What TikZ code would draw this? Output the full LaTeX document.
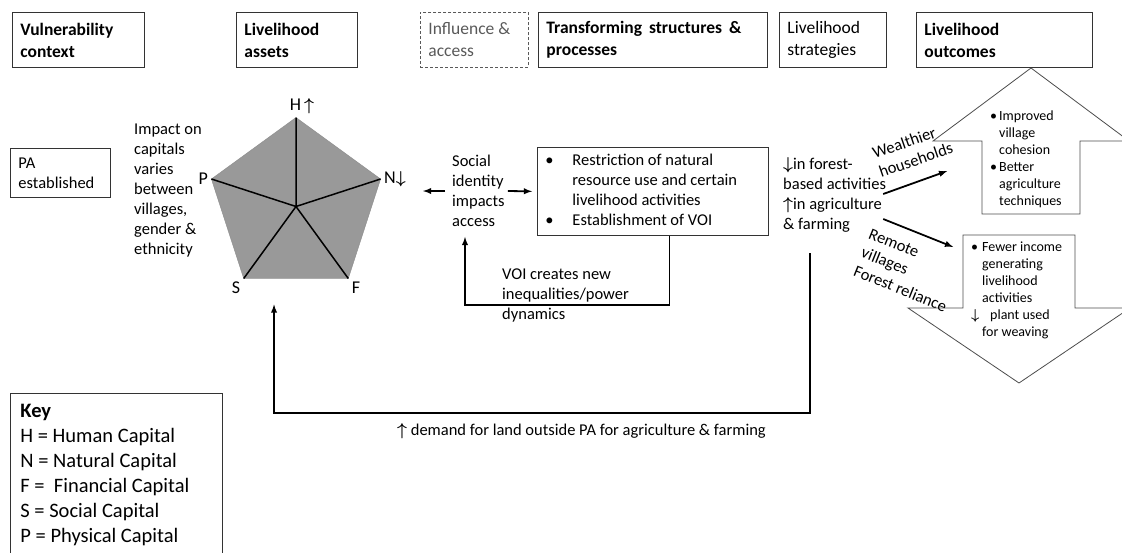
\documentclass[tikz,border=0pt]{standalone}
\usepackage{fontspec}
\usepackage{amsmath}
\setmainfont{Carlito}
\usetikzlibrary{calc}

\begin{document}
\begin{tikzpicture}[x=1pt,y=-1pt,
	box/.style={draw=black!80,line width=0.9pt,anchor=north west,minimum height=55pt,inner xsep=8pt,text width=#1,align=flush left},
	txt/.style={inner sep=0pt,anchor=west,align=flush left,font=\bdf},
	conn/.style={-latex,line width=1.8pt},
	big/.style={draw=black!70,line width=0.8pt},
	every label/.style={font=\fontsize{18}{22}\selectfont}]
	\newcommand{\hdf}{\fontsize{17.5}{22}\selectfont}
	\newcommand{\bdf}{\fontsize{16.5}{20}\selectfont}
	\newcommand{\upa}{$\boldsymbol{\uparrow}$}
	\newcommand{\dna}{$\boldsymbol{\downarrow}$}
	\useasboundingbox (0,0) rectangle (1122,552);
	% header row
	\node[box=116pt,font=\hdf\bfseries] (vul) at (12,12) {Vulnerability\\context};
	\node[box=105pt,font=\hdf\bfseries] (ast) at (236,12) {Livelihood\\assets};
	\node[box=92pt,font=\hdf,draw=black!65,dash pattern=on 3pt off 2pt,text=black!65] (inf) at (420,12) {Influence \&\\access};
	\node[box=213pt,font=\hdf\bfseries] (trs) at (538,12) {Transforming\hspace{7pt}structures\hspace{7pt}\&\\processes};
	\node[box=91pt,font=\hdf] (str) at (779,12) {Livelihood\\strategies};
	\node[box=160pt,font=\hdf\bfseries] (out) at (916,12) {Livelihood\\outcomes};
	% vulnerability
	\node[box=84pt,minimum height=49pt,font=\bdf] (pa) at (10,148) {PA\\established};
	\node[txt] (imp) at (134,191) {Impact on\\capitals\\varies\\between\\villages,\\gender \&\\ethnicity};
	% pentagon
	\coordinate (c) at (296,206.5);
	\coordinate[label={[xshift=6pt]above:H\,\upa}] (h) at (296,117.5);
	\coordinate[label=right:N\dna] (n) at (380.6,179);
	\coordinate[label=below right:F] (f) at (348.3,278.5);
	\coordinate[label=below left:S] (s) at (243.7,278.5);
	\coordinate[label=left:P] (p) at (211.4,179);
	\filldraw[fill=black!40,draw=black!45] (h) -- (n) -- (f) -- (s) -- (p) -- cycle;
	\draw[line width=1.5pt] (c) -- (h) (c) -- (n) (c) -- (f) (c) -- (s) (c) -- (p);
	% access and structures
	\node[txt] (soc) at (452,191) {Social\\identity\\impacts\\access};
	\node[box=215pt,minimum height=88pt,font=\bdf] (restr) at (537,147) {\begin{tabular}{@{}p{27pt}@{}l@{}}
		\textbullet & Restriction of natural\\
		& resource use and certain\\
		& livelihood activities\\
		\textbullet & Establishment of VOI
	\end{tabular}};
	\node[txt] (voi) at (502,295) {VOI creates new\\inequalities/power\\dynamics};
	\draw[conn] ([xshift=-7pt]soc.west) -- ([xshift=-29pt]soc.west); %to N
	\draw[conn,shorten >=5pt] ([xshift=3pt]soc.east) -- (restr.west);
	\draw[conn] ([xshift=16.5pt]restr.south) -- ++(0,69) -| ([xshift=13pt,yshift=-10pt]soc.south west); %VOI loop
	% strategies
	\node[txt] (strat) at (783,195) {\dna in forest-\\based activities\\\upa in agriculture\\\& farming};
	\draw[conn] ([xshift=27pt,yshift=-20.5pt]strat.south west) -- ++(0,159.5) -| ($(s)!0.29!(f)+(0,26)$); %back to assets
	\node[txt] (dem) at (397,431) {\upa\ demand for land outside PA for agriculture \& farming};
	% outcomes
	\draw[big] (982,214) -- (982,141) -- (933,141) -- (1031,68) -- (1129,141) -- (1080,141) -- (1080,214) -- cycle;
	\node[inner sep=0pt,anchor=west,font=\fontsize{14}{17}\selectfont] (good) at (990,159.5) {\begin{tabular}{@{}p{9pt}@{}l@{}}
		\textbullet & Improved\\ & village\\ & cohesion\\
		\textbullet & Better\\ & agriculture\\ & techniques
	\end{tabular}};
	\draw[big] (963,235) -- (1075,235) -- (1075,308) -- (1130,308) -- (1019,383) -- (908,308) -- (963,308) -- cycle;
	\node[inner sep=0pt,anchor=west,font=\fontsize{14}{17}\selectfont] (bad) at (971,290.5) {\begin{tabular}{@{}p{11pt}@{}l@{}}
		\textbullet & Fewer income\\ & generating\\ & livelihood\\ & activities\\
		\dna & \hspace{8pt}plant used\\ & for weaving
	\end{tabular}};
	\node[txt,rotate=19] (wlt) at (876,163) {Wealthier\\households};
	\node[txt,rotate=-22] (rem) at (862,252) {Remote\\villages\\Forest reliance};
	\draw[conn] ([xshift=-3pt,yshift=1pt]strat.east) -- ++(64,-23);
	\draw[conn] ([xshift=-3pt,yshift=-24pt]strat.east) -- ++(70,28);
	% key
	\node[box=192pt,minimum height=163pt,inner xsep=10pt,font=\fontsize{20.5}{25}\selectfont] (key) at (10,393) {\textbf{Key}\\H = Human Capital\\N = Natural Capital\\F = \ Financial Capital\\S = Social Capital\\P = Physical Capital};
\end{tikzpicture}
\end{document}
